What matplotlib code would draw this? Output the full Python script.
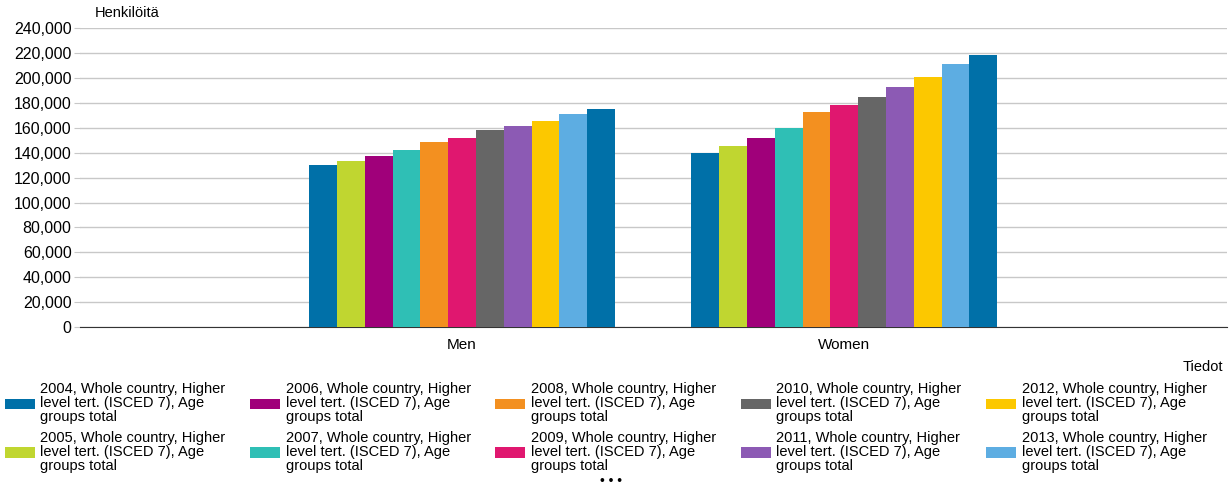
import numpy as np
import matplotlib.pyplot as plt
from matplotlib.patches import Patch
from matplotlib.ticker import FuncFormatter

plt.rcParams['font.family'] = ['Liberation Sans', 'DejaVu Sans']

genders = ["Men", "Women"]
years = ["2004", "2005", "2006", "2007", "2008", "2009",
         "2010", "2011", "2012", "2013", "2014"]
men = [130000, 133500, 137200, 141800, 148500, 152200,
       157900, 161600, 165300, 170900, 175500]
women = [139400, 145800, 152200, 159700, 172800, 178200,
         184800, 192400, 200600, 211100, 218300]
colors = ["#0070a8", "#c0d630", "#a0007a", "#2fbfb5", "#f39020", "#e0176f",
          "#666666", "#8c5ab4", "#fcc800", "#5dade2", "#0070a8"]

fig = plt.figure(figsize=(12.29, 4.86), dpi=100)
ax = fig.add_axes([0.065, 0.327, 0.933, 0.615])

x = np.arange(len(genders))
n = len(years)
w = 0.8 / n
for i in range(n):
    ax.bar(x - 0.4 + w * (i + 0.5), [men[i], women[i]], width=w,
           color=colors[i], linewidth=0, zorder=3)

ax.set_xlim(-1, 2)
ax.set_ylim(0, 240000)
ax.set_yticks(np.arange(0, 240001, 20000))
ax.yaxis.set_major_formatter(FuncFormatter(lambda v, p: f"{int(v):,}"))
ax.set_xticks(x)
ax.set_xticklabels(genders)
ax.grid(axis="y", color="#c8c8c8", linewidth=1, zorder=0)
for s in ["left", "right", "top"]:
    ax.spines[s].set_visible(False)
ax.spines["bottom"].set_color("#333333")
ax.tick_params(axis="y", length=4, color="#c8c8c8", labelsize=11.5, pad=2)
ax.tick_params(axis="x", length=0, labelsize=11, pad=8)

fig.text(0.077, 0.958, "Henkilöitä", fontsize=10.5, va="bottom")
fig.text(0.995, 0.245, "Tiedot", fontsize=10.5, ha="right", va="center")

# legend shows the first ten series, column by column
handles = [Patch(facecolor=colors[i]) for i in range(10)]
labels = [f"{years[i]}, Whole country, Higher\nlevel tert. (ISCED 7), Age\ngroups total"
          for i in range(10)]
leg = fig.legend(handles, labels, loc="upper left", bbox_to_anchor=(-0.0045, 0.234),
                 ncol=5, frameon=False, fontsize=10.5, handlelength=2.05,
                 handleheight=0.7, handletextpad=0.4, columnspacing=1.68,
                 labelspacing=0.45, borderpad=0.2)
for t in leg.get_texts():
    t.set_linespacing(1.0)

fig.text(0.497, -0.004, "• • •", fontsize=10, ha="center", va="bottom")

fig.savefig("out.png", dpi=100)
